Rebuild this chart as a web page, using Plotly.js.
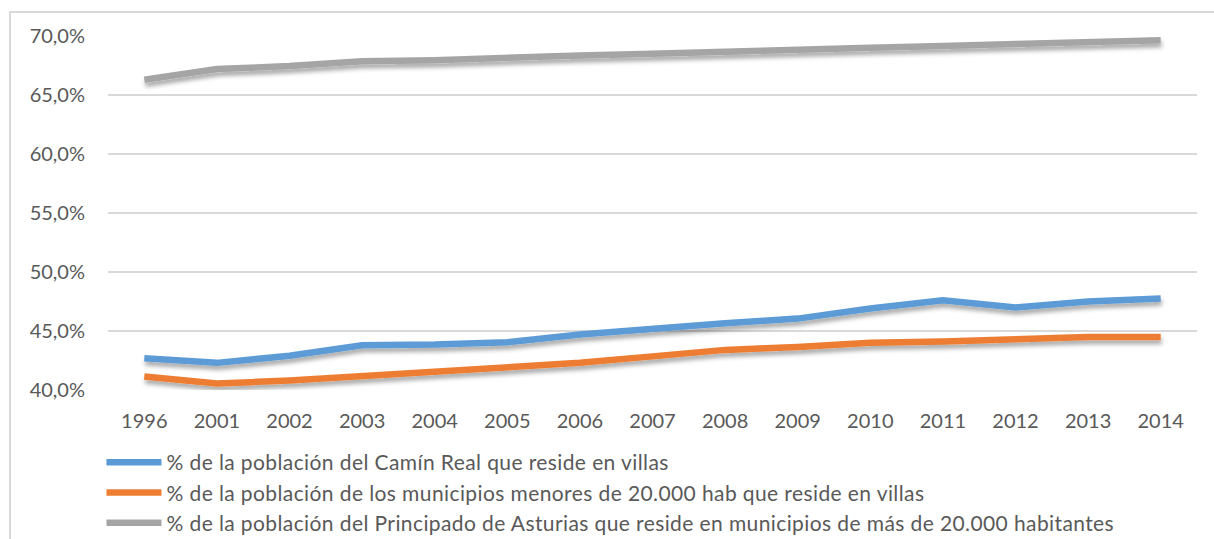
<!DOCTYPE html>
<html>
<head>
<meta charset="utf-8">
<script src="https://cdn.plot.ly/plotly-3.0.1.min.js"></script>
<style>
  html, body { margin: 0; padding: 0; background: #ffffff; }
  #frame { position: absolute; left: 9px; top: 11px; width: 1300px; height: 700px;
           border-left: 2px solid #d9d9d9; border-top: 2px solid #d9d9d9; box-sizing: border-box; }
  #chart { position: absolute; left: 0; top: 0; width: 1214px; height: 539px; }
  .legend .legendtext { letter-spacing: 0.4px; }
</style>
</head>
<body>
<div id="frame"></div>
<div id="chart"></div>
<script>
const years = ["1996","2001","2002","2003","2004","2005","2006","2007","2008","2009","2010","2011","2012","2013","2014"];
const camin = [42.7, 42.3, 42.9, 43.8, 43.85, 44.05, 44.7, 45.2, 45.65, 46.05, 46.9, 47.6, 47.0, 47.5, 47.75];
const menores = [41.15, 40.55, 40.8, 41.15, 41.5, 41.85, 42.3, 42.85, 43.4, 43.65, 44.0, 44.1, 44.3, 44.5, 44.5];
const principado = [66.3, 67.2, 67.45, 67.85, 67.95, 68.2, 68.35, 68.5, 68.7, 68.85, 69.0, 69.15, 69.3, 69.45, 69.65];
const names = [
  "% de la población del Camín Real que reside en villas",
  "% de la población de los municipios menores de 20.000 hab que reside en villas",
  "% de la población del Principado de Asturias que reside en municipios de más de 20.000 habitantes"
];
const colors = ["#5b9bd5", "#ed7d31", "#a5a5a5"];
const series = [camin, menores, principado];
const yTicks = [40, 45, 50, 55, 60, 65, 70];
const yTickText = ["40,0%", "45,0%", "50,0%", "55,0%", "60,0%", "65,0%", "70,0%"];

const tickFont = { family: "Lato, 'Open Sans', sans-serif", size: 20, color: "#595959" };
const legendFont = { family: "Lato, 'Open Sans', sans-serif", size: 21, color: "#595959" };

const traces = series.map((s, i) => ({
  type: "scatter", mode: "lines", x: years, y: s, name: names[i],
  line: { color: colors[i], width: 6.5, shape: "linear" },
  hoverinfo: "skip"
}));

const layout = {
  width: 1214, height: 539,
  margin: { l: 108, r: 17, t: 36, b: 149, autoexpand: false },
  paper_bgcolor: "rgba(0,0,0,0)", plot_bgcolor: "rgba(0,0,0,0)",
  font: tickFont,
  showlegend: true,
  legend: { orientation: "v", x: -0.006, xanchor: "left", y: -0.147, yanchor: "top",
            font: legendFont, itemwidth: 55, tracegroupgap: 0, bgcolor: "rgba(0,0,0,0)" },
  xaxis: { type: "category", range: [-0.5, 14.5], showgrid: false, zeroline: false,
           showline: false, ticks: "", tickfont: tickFont, ticklabelstandoff: 17, fixedrange: true },
  yaxis: { range: [40, 70], tickvals: yTicks, ticktext: yTickText, showgrid: true,
           gridcolor: "#d9d9d9", gridwidth: 1.3, zeroline: false, showline: false, ticks: "",
           tickfont: tickFont, ticklabelstandoff: 22, fixedrange: true }
};

Plotly.newPlot("chart", traces, layout, { displayModeBar: false, staticPlot: true }).then(gd => {
  const svg = gd.querySelector("svg.main-svg");
  const ns = "http://www.w3.org/2000/svg";
  let defs = svg.querySelector("defs");
  if (!defs) { defs = document.createElementNS(ns, "defs"); svg.insertBefore(defs, svg.firstChild); }
  const f = document.createElementNS(ns, "filter");
  f.setAttribute("id", "lineShadow");
  f.setAttribute("x", "-5%"); f.setAttribute("y", "-50%");
  f.setAttribute("width", "110%"); f.setAttribute("height", "200%");
  const ds = document.createElementNS(ns, "feDropShadow");
  ds.setAttribute("dx", "1"); ds.setAttribute("dy", "4");
  ds.setAttribute("stdDeviation", "2.2");
  ds.setAttribute("flood-color", "#000000"); ds.setAttribute("flood-opacity", "0.33");
  f.appendChild(ds); defs.appendChild(f);
  gd.querySelectorAll(".scatterlayer .trace path.js-line").forEach(p => p.setAttribute("filter", "url(#lineShadow)"));
  // allow the letter-spaced legend texts to show in full
  gd.querySelectorAll(".legend [clip-path], .legend .scrollbox").forEach(el => {
    el.removeAttribute("clip-path");
    el.style.clipPath = "none";
  });
});
</script>
</body>
</html>
